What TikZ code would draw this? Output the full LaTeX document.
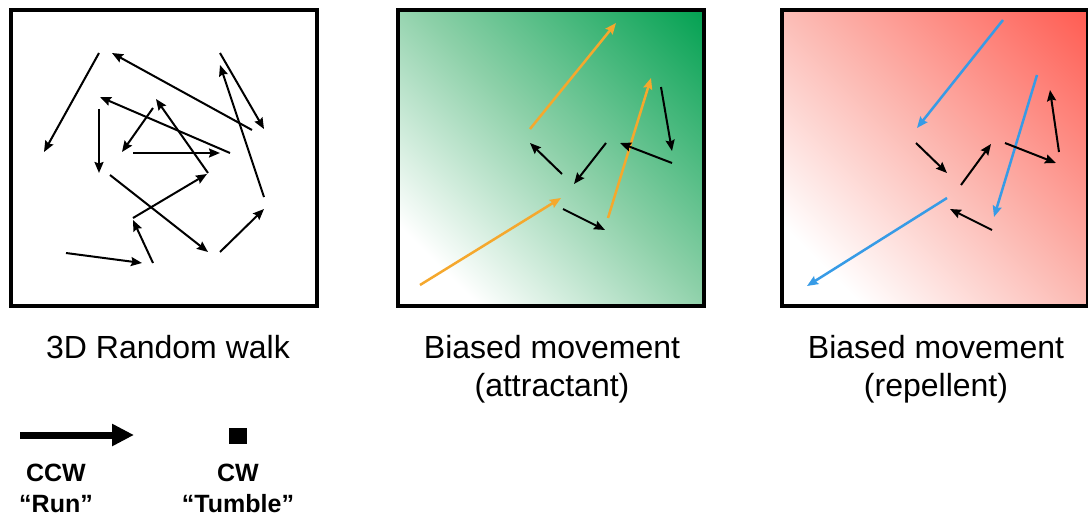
\documentclass[tikz,border=0pt]{standalone}
\usepackage{fontspec}
\setmainfont{Liberation Sans}
\usetikzlibrary{arrows.meta}
\definecolor{gtop}{RGB}{0,160,80}
\definecolor{gmid}{RGB}{140,208,168}
\definecolor{rtop}{RGB}{255,90,80}
\definecolor{rmid}{RGB}{252,182,175}
\definecolor{orng}{RGB}{245,168,45}
\definecolor{blu}{RGB}{55,155,230}
\pgfdeclareverticalshading{greenshade}{100bp}{color(0bp)=(white); color(24bp)=(white); color(52bp)=(gmid); color(86bp)=(gtop); color(100bp)=(gtop)}
\pgfdeclareverticalshading{redshade}{100bp}{color(0bp)=(white); color(24bp)=(white); color(52bp)=(rmid); color(86bp)=(rtop); color(100bp)=(rtop)}
\begin{document}
\begin{tikzpicture}[x=1pt,y=-1pt,
  panel/.style={draw=black,line width=4pt,minimum width=306pt,minimum height=296pt,inner sep=0pt},
  walk/.style={line width=2pt,line cap=butt,-{Stealth[length=11pt,width=9pt,inset=1.5pt]}},
  orun/.style={walk,line width=2.5pt,draw=orng},
  brun/.style={walk,line width=2.5pt,draw=blu},
  captxt/.style={font=\fontsize{32}{38}\selectfont,anchor=base,inner sep=0pt},
  legtxt/.style={font=\fontsize{25}{30}\selectfont\bfseries,anchor=base,inner sep=0pt}]
\useasboundingbox (0,0) rectangle (1088,527);
\fill[white] (0,0) rectangle (1088,527);
% panels
\node[panel,fill=white] (p1) at (164,158) {};
\node[panel,shading=greenshade,shading angle=-45] (p2) at (551,158) {};
\node[panel,shading=redshade,shading angle=-45] (p3) at (935,158) {};
% panel 1 : random walk
\draw[walk] (99,53) -- (44,152);
\draw[walk] (252,130) -- (112,53);
\draw[walk] (220,53) -- (264,129);
\draw[walk] (264,197) -- (220,65);
\draw[walk] (230,153) -- (100,97);
\draw[walk] (99,109) -- (99,173);
\draw[walk] (153,108) -- (122,152);
\draw[walk] (133,153) -- (220,153);
\draw[walk] (208,173) -- (156,99);
\draw[walk] (133,218) -- (207,174);
\draw[walk] (110,175) -- (208,252);
\draw[walk] (153,263) -- (133,220);
\draw[walk] (66,253) -- (142,263);
\draw[walk] (220,252) -- (264,209);
% panel 2 : attractant
\draw[orun] (420,285) -- (561,198);
\draw[orun] (530,129) -- (616,23);
\draw[orun] (608,218) -- (651,78);
\draw[walk] (562,174) -- (530,143);
\draw[walk] (606,143) -- (574,184);
\draw[walk] (563,209) -- (605,230);
\draw[walk] (672,163) -- (620,143);
\draw[walk] (661,87) -- (672,151);
% panel 3 : repellent
\draw[brun] (1003,20) -- (917,128);
\draw[brun] (1037,75) -- (994,217);
\draw[brun] (947,198) -- (807,286);
\draw[walk] (916,143) -- (947,173);
\draw[walk] (961,185) -- (991,144);
\draw[walk] (1005,143) -- (1056,163);
\draw[walk] (1059,152) -- (1050,90);
\draw[walk] (992,230) -- (950,209);
% captions
\node[captxt] (c1) at (168,358) {3D Random walk};
\node[captxt] (c2) at (552,358) {Biased movement};
\node[captxt] (c2b) at (552,396) {(attractant)};
\node[captxt] (c3) at (936,358) {Biased movement};
\node[captxt] (c3b) at (936,396) {(repellent)};
% legend
\coordinate (ls) at (20,435);
\coordinate (le) at (134,435);
\draw[line width=7pt,-{Triangle[length=22pt,width=21pt]}] (ls) -- (le);
\node[fill=black,minimum width=18pt,minimum height=16pt,inner sep=0pt] (sq) at (237.5,435.5) {};
\node[legtxt] (l1) at (56,481) {CCW};
\node[legtxt] (l1b) at (56,512) {“Run”};
\node[legtxt] (l2) at (238,481) {CW};
\node[legtxt] (l2b) at (238,512) {“Tumble”};
\end{tikzpicture}
\end{document}
